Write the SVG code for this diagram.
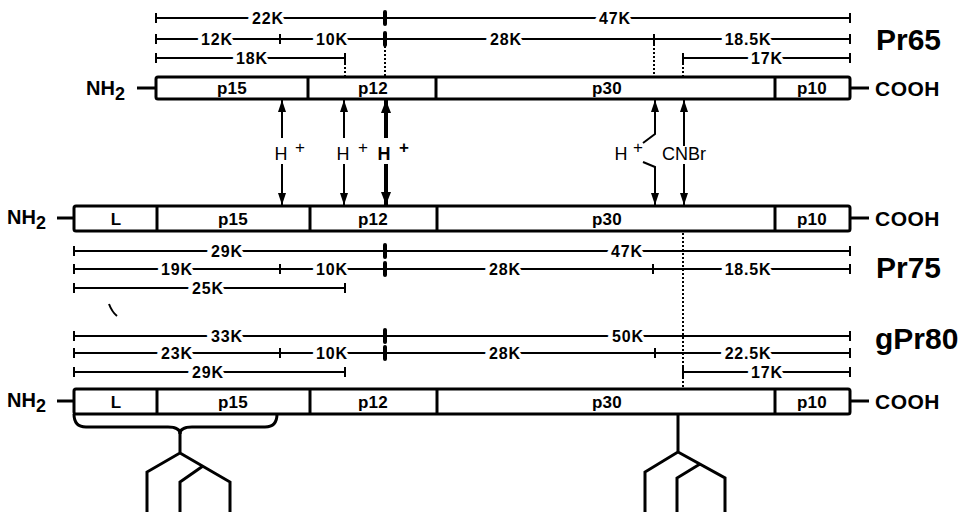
<svg xmlns="http://www.w3.org/2000/svg" width="967" height="512" viewBox="0 0 967 512">
<style>
text{font-family:"Liberation Sans",Arial,sans-serif;fill:#000}
.bar{fill:#fff;stroke:#000;stroke-width:3}
.div{stroke:#000;stroke-width:3}
.dim{stroke:#000;stroke-width:2;fill:none}
.tk{stroke:#000;stroke-width:2}
.tt{stroke:#000;stroke-width:4;stroke-linecap:round}
.dot{stroke:#000;stroke-width:2;stroke-dasharray:2 2;fill:none}
.k{font-size:16px;font-weight:bold;text-anchor:middle;stroke:#fff;stroke-width:8;paint-order:stroke;letter-spacing:0.8px}
.seg{font-size:17px;font-weight:bold;text-anchor:middle;letter-spacing:0.3px}
.end{font-size:20px;font-weight:bold}
.cooh{font-size:21px;font-weight:bold;letter-spacing:0.5px}
.name{font-size:30px;font-weight:bold}
.h{font-size:18px;text-anchor:middle}
.hp{font-size:17px;text-anchor:middle}
.arr{stroke:#000;stroke-width:2;fill:none}
.arrb{stroke:#000;stroke-width:4;fill:none}
.tree{stroke:#000;stroke-width:3;fill:none;stroke-linejoin:miter}
</style>
<defs>
<marker id="ah" markerUnits="userSpaceOnUse" markerWidth="12" markerHeight="8" refX="12" refY="4" orient="auto"><path d="M0,0 L12,4 L0,8 z" fill="#000"/></marker>
<marker id="ahb" markerUnits="userSpaceOnUse" markerWidth="13" markerHeight="10" refX="13" refY="5" orient="auto"><path d="M0,0 L13,5 L0,10 z" fill="#000"/></marker>
</defs>

<g id="pr65">
<rect class="bar" x="156" y="77" width="694" height="22" rx="2"/>
<line class="div" x1="308" y1="77" x2="308" y2="99"/>
<line class="div" x1="436" y1="77" x2="436" y2="99"/>
<line class="div" x1="775" y1="77" x2="775" y2="99"/>
<text class="seg" x="232" y="94">p15</text>
<text class="seg" x="373" y="94">p12</text>
<text class="seg" x="607" y="94">p30</text>
<text class="seg" x="812" y="94">p10</text>
<line class="div" x1="137" y1="88" x2="155" y2="88"/>
<text class="end" x="86" y="95">NH<tspan font-size="18" dy="5">2</tspan></text>
<line class="div" x1="850" y1="88" x2="869" y2="88"/>
<text class="cooh" x="875" y="96">COOH</text>
<text class="name" x="876" y="50">Pr65</text>
</g>

<g id="pr75">
<rect class="bar" x="74" y="206" width="776" height="25" rx="2"/>
<line class="div" x1="157" y1="206" x2="157" y2="231"/>
<line class="div" x1="310" y1="206" x2="310" y2="231"/>
<line class="div" x1="437" y1="206" x2="437" y2="231"/>
<line class="div" x1="775" y1="206" x2="775" y2="231"/>
<text class="seg" x="116" y="225">L</text>
<text class="seg" x="233" y="225">p15</text>
<text class="seg" x="373" y="225">p12</text>
<text class="seg" x="607" y="225">p30</text>
<text class="seg" x="812" y="225">p10</text>
<line class="div" x1="57" y1="218" x2="73" y2="218"/>
<text class="end" x="7" y="224">NH<tspan font-size="18" dy="5">2</tspan></text>
<line class="div" x1="850" y1="218" x2="869" y2="218"/>
<text class="cooh" x="875" y="226">COOH</text>
<text class="name" x="876" y="278">Pr75</text>
</g>

<g id="gpr80">
<rect class="bar" x="74" y="389" width="776" height="25" rx="2"/>
<line class="div" x1="157" y1="389" x2="157" y2="414"/>
<line class="div" x1="310" y1="389" x2="310" y2="414"/>
<line class="div" x1="437" y1="389" x2="437" y2="414"/>
<line class="div" x1="775" y1="389" x2="775" y2="414"/>
<text class="seg" x="116" y="408">L</text>
<text class="seg" x="233" y="408">p15</text>
<text class="seg" x="373" y="408">p12</text>
<text class="seg" x="607" y="408">p30</text>
<text class="seg" x="812" y="408">p10</text>
<line class="div" x1="57" y1="401" x2="73" y2="401"/>
<text class="end" x="7" y="407">NH<tspan font-size="18" dy="5">2</tspan></text>
<line class="div" x1="850" y1="401" x2="869" y2="401"/>
<text class="cooh" x="875" y="409">COOH</text>
<text class="name" x="875" y="349" font-size="31">gPr80</text>
</g>

<g id="dims-pr65">
<line class="dim" x1="156" y1="18" x2="850" y2="18"/>
<line class="tk" x1="156" y1="13" x2="156" y2="23"/><line class="tk" x1="850" y1="13" x2="850" y2="23"/>
<line class="tt" x1="385" y1="12" x2="385" y2="24"/>
<text class="k" x="268" y="24">22K</text><text class="k" x="615" y="24">47K</text>
<line class="dim" x1="156" y1="39" x2="850" y2="39"/>
<line class="tk" x1="156" y1="34" x2="156" y2="44"/><line class="tk" x1="850" y1="34" x2="850" y2="44"/>
<line class="tk" x1="280" y1="34" x2="280" y2="44"/><line class="tk" x1="654" y1="34" x2="654" y2="44"/>
<line class="tt" x1="385" y1="33" x2="385" y2="45"/>
<text class="k" x="217" y="45">12K</text><text class="k" x="332" y="45">10K</text>
<text class="k" x="506" y="45">28K</text><text class="k" x="748" y="45">18.5K</text>
<line class="dim" x1="156" y1="58" x2="345" y2="58"/>
<line class="tk" x1="156" y1="53" x2="156" y2="63"/><line class="tk" x1="345" y1="53" x2="345" y2="63"/>
<text class="k" x="252" y="64">18K</text>
<line class="dim" x1="683" y1="58" x2="850" y2="58"/>
<line class="tk" x1="683" y1="53" x2="683" y2="63"/><line class="tk" x1="850" y1="53" x2="850" y2="63"/>
<text class="k" x="767" y="64">17K</text>
<line class="dot" x1="345" y1="63" x2="345" y2="76"/>
<line class="dot" x1="385" y1="46" x2="385" y2="76"/>
<line class="dot" x1="654" y1="44" x2="654" y2="76"/>
<line class="dot" x1="683" y1="63" x2="683" y2="76"/>
</g>

<g id="dims-pr75">
<line class="dim" x1="74" y1="251" x2="850" y2="251"/>
<line class="tk" x1="74" y1="246" x2="74" y2="256"/><line class="tk" x1="850" y1="246" x2="850" y2="256"/>
<line class="tt" x1="385" y1="245" x2="385" y2="257"/>
<text class="k" x="227" y="257">29K</text><text class="k" x="627" y="257">47K</text>
<line class="dim" x1="74" y1="269" x2="850" y2="269"/>
<line class="tk" x1="74" y1="264" x2="74" y2="274"/><line class="tk" x1="850" y1="264" x2="850" y2="274"/>
<line class="tk" x1="280" y1="264" x2="280" y2="274"/><line class="tk" x1="653" y1="264" x2="653" y2="274"/>
<line class="tt" x1="385" y1="263" x2="385" y2="275"/>
<text class="k" x="177" y="275">19K</text><text class="k" x="332" y="275">10K</text>
<text class="k" x="505" y="275">28K</text><text class="k" x="748" y="275">18.5K</text>
<line class="dim" x1="74" y1="288" x2="345" y2="288"/>
<line class="tk" x1="74" y1="283" x2="74" y2="293"/><line class="tk" x1="345" y1="283" x2="345" y2="293"/>
<text class="k" x="208" y="294">25K</text>
<path d="M109,304 Q112,312 117,316" stroke="#000" stroke-width="2" fill="none"/>
</g>

<g id="dims-gpr80">
<line class="dim" x1="74" y1="336" x2="850" y2="336"/>
<line class="tk" x1="74" y1="331" x2="74" y2="341"/><line class="tk" x1="850" y1="331" x2="850" y2="341"/>
<line class="tt" x1="385" y1="330" x2="385" y2="342"/>
<text class="k" x="227" y="342">33K</text><text class="k" x="628" y="342">50K</text>
<line class="dim" x1="74" y1="353" x2="850" y2="353"/>
<line class="tk" x1="74" y1="348" x2="74" y2="358"/><line class="tk" x1="850" y1="348" x2="850" y2="358"/>
<line class="tk" x1="280" y1="348" x2="280" y2="358"/><line class="tk" x1="655" y1="348" x2="655" y2="358"/>
<line class="tt" x1="385" y1="347" x2="385" y2="359"/>
<text class="k" x="177" y="359">23K</text><text class="k" x="332" y="359">10K</text>
<text class="k" x="505" y="359">28K</text><text class="k" x="748" y="359">22.5K</text>
<line class="dim" x1="74" y1="372" x2="345" y2="372"/>
<line class="tk" x1="74" y1="367" x2="74" y2="377"/><line class="tk" x1="345" y1="367" x2="345" y2="377"/>
<text class="k" x="208" y="378">29K</text>
<line class="dim" x1="683" y1="372" x2="850" y2="372"/>
<line class="tk" x1="683" y1="367" x2="683" y2="377"/><line class="tk" x1="850" y1="367" x2="850" y2="377"/>
<text class="k" x="767" y="378">17K</text>
<line class="dot" x1="683" y1="233" x2="683" y2="388"/>
</g>

<g id="connectors">
<line class="arr" x1="282" y1="138" x2="282" y2="100" marker-end="url(#ah)"/>
<line class="arr" x1="282" y1="164" x2="282" y2="205" marker-end="url(#ah)"/>
<line class="arr" x1="344" y1="138" x2="344" y2="100" marker-end="url(#ah)"/>
<line class="arr" x1="344" y1="164" x2="344" y2="205" marker-end="url(#ah)"/>
<line class="arrb" x1="386" y1="138" x2="386" y2="100" marker-end="url(#ahb)"/>
<line class="arrb" x1="386" y1="164" x2="386" y2="205" marker-end="url(#ahb)"/>
<polyline class="arr" points="643,143 655,134 655,100" marker-end="url(#ah)"/>
<polyline class="arr" points="643,162 655,167 655,205" marker-end="url(#ah)"/>
<line class="arr" x1="684" y1="146" x2="684" y2="100" marker-end="url(#ah)"/>
<line class="arr" x1="684" y1="164" x2="684" y2="205" marker-end="url(#ah)"/>
<path class="tree" d="M74,414 Q74,427 86,427 L168,427 Q180,427 180,434 Q180,427 192,427 L265,427 Q277,427 277,414"/>
<path class="tree" d="M180,433 L180,453 L147,472 L147,512 M180,453 L230,482 L230,512 M203,466 L180,482 L180,512"/>
<path class="tree" d="M678,414 L678,452 L645,472 L645,512 M678,452 L725,478 L725,512 M700,464 L677,478 L677,512"/>
</g>

<g id="labels">
<text class="h" x="281" y="160">H</text><text class="hp" x="300" y="153">+</text>
<text class="h" x="343" y="160">H</text><text class="hp" x="363" y="153">+</text>
<text class="h" x="384" y="160" font-weight="bold">H</text><text class="hp" x="404" y="153" font-weight="bold">+</text>
<text class="h" x="621" y="160">H</text><text class="hp" x="638" y="153">+</text>
<text class="h" x="684" y="160" font-size="17">CNBr</text>
</g>
</svg>
